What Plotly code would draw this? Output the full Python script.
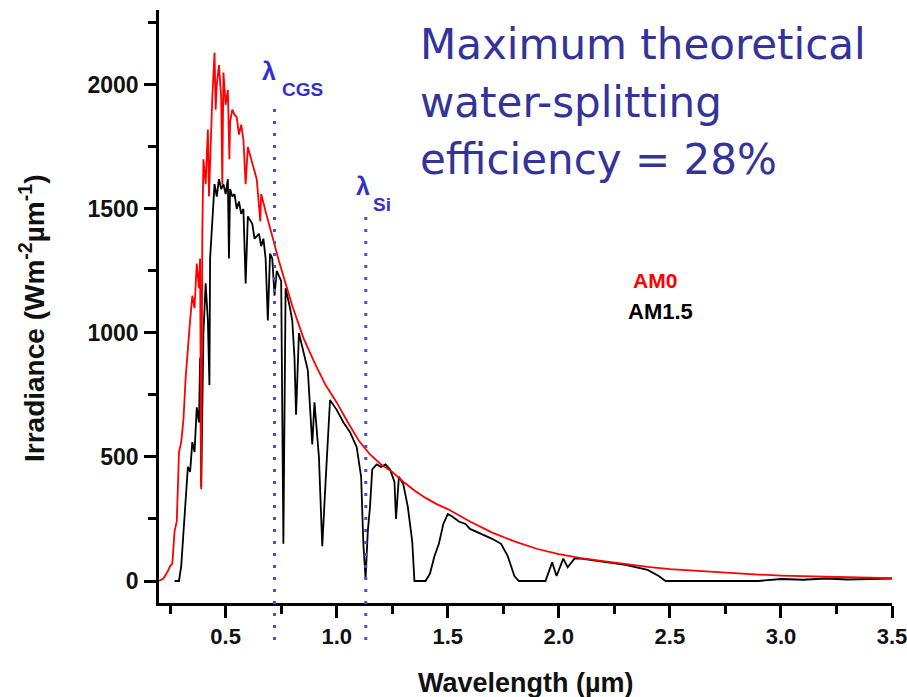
import plotly.graph_objects as go

# AM0 (extraterrestrial) spectrum
am0_wl = [0.20, 0.22, 0.24, 0.25, 0.26, 0.27, 0.28, 0.29, 0.30, 0.31, 0.32, 0.33, 0.34, 0.35,
          0.36, 0.37, 0.38, 0.385, 0.39, 0.395, 0.40, 0.41, 0.42, 0.425, 0.43, 0.44, 0.45, 0.455,
          0.46, 0.47, 0.48, 0.485, 0.49, 0.50, 0.51, 0.517, 0.52, 0.53, 0.54, 0.55, 0.56, 0.57,
          0.58, 0.59, 0.60, 0.61, 0.62, 0.63, 0.64, 0.656, 0.66, 0.68, 0.70, 0.72, 0.74, 0.76,
          0.78, 0.80, 0.85, 0.90, 0.95, 1.00, 1.05, 1.10, 1.15, 1.20, 1.25, 1.30, 1.35, 1.40,
          1.45, 1.50, 1.60, 1.70, 1.80, 1.90, 2.00, 2.10, 2.20, 2.30, 2.40, 2.50, 2.60, 2.70,
          2.80, 2.90, 3.00, 3.20, 3.40, 3.50]
am0_irr = [0, 10, 40, 60, 70, 200, 240, 520, 560, 650, 820, 950, 1050, 1150,
           1100, 1280, 1180, 1300, 370, 1400, 1700, 1600, 1820, 1550, 1700, 1950, 2130, 1900,
           2000, 2080, 1950, 1600, 2050, 1920, 1980, 1700, 1850, 1900, 1880, 1870, 1800, 1840,
           1780, 1600, 1750, 1720, 1680, 1650, 1620, 1450, 1560, 1490, 1420, 1350, 1290, 1230,
           1170, 1110, 980, 880, 790, 720, 640, 565, 510, 470, 440, 400, 365, 335,
           310, 290, 240, 195, 160, 130, 108, 92, 80, 68, 57, 48, 42, 36,
           31, 26, 22, 17, 13, 11]

# AM1.5 (terrestrial) spectrum
am15_wl = [0.27, 0.29, 0.30, 0.31, 0.32, 0.33, 0.34, 0.35, 0.36, 0.37, 0.38, 0.385, 0.39, 0.40,
           0.41, 0.42, 0.427, 0.43, 0.44, 0.45, 0.46, 0.47, 0.48, 0.49, 0.50, 0.51, 0.515, 0.52,
           0.53, 0.54, 0.55, 0.56, 0.57, 0.58, 0.59, 0.60, 0.62, 0.63, 0.65, 0.66, 0.67, 0.68,
           0.69, 0.70, 0.71, 0.72, 0.73, 0.74, 0.75, 0.76, 0.77, 0.79, 0.80, 0.81, 0.817, 0.83,
           0.85, 0.87, 0.89, 0.90, 0.92, 0.935, 0.95, 0.97, 1.00, 1.03, 1.06, 1.09, 1.11, 1.12,
           1.13, 1.14, 1.15, 1.16, 1.18, 1.20, 1.22, 1.24, 1.26, 1.267, 1.28, 1.30, 1.32, 1.34,
           1.35, 1.40, 1.42, 1.44, 1.46, 1.48, 1.50, 1.52, 1.55, 1.58, 1.60, 1.65, 1.70, 1.74,
           1.77, 1.80, 1.82, 1.94, 1.97, 1.99, 2.02, 2.04, 2.07, 2.10, 2.20, 2.30, 2.40, 2.45,
           2.48, 2.90, 3.00, 3.10, 3.20, 3.30, 3.40, 3.50]
am15_irr = [0, 0, 60, 200, 350, 460, 440, 560, 520, 700, 640, 900, 380, 1000,
            1200, 1050, 790, 1300, 1450, 1600, 1550, 1620, 1580, 1600, 1560, 1620, 1300, 1580,
            1550, 1560, 1500, 1530, 1480, 1500, 1200, 1470, 1440, 1380, 1400, 1350, 1380, 1300,
            1050, 1320, 1300, 1150, 1250, 1230, 1210, 150, 1180, 1100, 1050, 900, 670, 1000,
            920, 850, 550, 720, 500, 140, 400, 730, 690, 640, 600, 540, 420, 150,
            10, 200, 300, 450, 470, 460, 470, 450, 400, 250, 420, 390, 300, 160,
            0, 0, 30, 100, 150, 230, 270, 260, 240, 230, 210, 190, 170, 150,
            100, 20, 0, 0, 75, 20, 90, 55, 90, 90, 78, 65, 45, 20,
            0, 0, 8, 5, 10, 6, 8, 10]

x_ticks = [0.5, 1.0, 1.5, 2.0, 2.5, 3.0, 3.5]
y_ticks = [0, 500, 1000, 1500, 2000]
lambda_cgs = 0.72
lambda_si = 1.131

# plot-area geometry (pixels) used to place free text
L, R, T, B = 159, 15, 10, 94
W, H = 907 - L - R, 697 - T - B


def px(xp):
    return (xp - L) / W


def py(yp):
    return (697 - B - yp) / H


def label(x, y, text, size, color, family="Liberation Sans", angle=0, xa="center"):
    fig.add_annotation(x=px(x), y=py(y), xref="paper", yref="paper", text=text,
                       showarrow=False, xanchor=xa, yanchor="middle", textangle=angle,
                       font=dict(family=family, size=size, color=color))


fig = go.Figure()
fig.add_trace(go.Scatter(x=am15_wl, y=am15_irr, mode="lines",
                         line=dict(color="black", width=1.8), name="AM1.5"))
fig.add_trace(go.Scatter(x=am0_wl, y=am0_irr, mode="lines",
                         line=dict(color="#ff0000", width=1.8), name="AM0"))

dot_color = "#4a4ae0"
fig.add_shape(type="line", xref="x", yref="paper", x0=lambda_cgs, x1=lambda_cgs,
              y0=py(640), y1=py(105), line=dict(color=dot_color, width=3, dash="3px,9px"))
fig.add_shape(type="line", xref="x", yref="paper", x0=lambda_si, x1=lambda_si,
              y0=py(640), y1=py(215), line=dict(color=dot_color, width=3, dash="3px,9px"))

blue = "#3030cc"
label(269, 71, "<b>λ</b>", 25, blue)
label(302, 90, "<b>CGS</b>", 19, blue)
label(363, 186, "<b>λ</b>", 25, blue)
label(382, 204, "<b>Si</b>", 19, blue)

title_lines = ["Maximum theoretical", "water-splitting", "efficiency = 28%"]
title_centers = [45, 102, 159]
for t, c in zip(title_lines, title_centers):
    label(418, c, t, 42, "#333399", family="DejaVu Sans", xa="left")

label(655, 280, "<b>AM0</b>", 21, "#ff0000")
label(660, 312, "<b>AM1.5</b>", 22, "black")

# axis titles
label(526, 683, "<b>Wavelength (µm)</b>", 27, "#111111")
label(32, 318, "<b>Irradiance (Wm<sup>-2</sup>µm<sup>-1</sup>)</b>", 28, "#111111", angle=-90)

fig.update_layout(
    width=907, height=697,
    margin=dict(l=L, r=R, t=T, b=B, autoexpand=False),
    paper_bgcolor="white", plot_bgcolor="white",
    showlegend=False,
    font=dict(family="Liberation Sans", color="black"),
)
fig.update_xaxes(
    range=[0.2, 3.5], tickvals=x_ticks, ticktext=[f"{v:.1f}" for v in x_ticks],
    automargin=False, ticklabeloverflow="allow",
    showgrid=False, zeroline=False, showline=True, linecolor="black", linewidth=2.5,
    ticks="outside", ticklen=12, tickwidth=2.5, tickcolor="black",
    minor=dict(ticks="outside", ticklen=8, tickwidth=2.5, tickcolor="black", dtick=0.25,
               tick0=0.25, showgrid=False),
    tickfont=dict(family="Liberation Sans", size=22, weight="bold", color="#111111"),
)
fig.update_yaxes(
    range=[-88.7, 2302], tickvals=y_ticks, ticktext=[str(v) for v in y_ticks],
    automargin=False, ticklabeloverflow="allow",
    showgrid=False, zeroline=False, showline=True, linecolor="black", linewidth=2.5,
    ticks="outside", ticklen=12, tickwidth=2.5, tickcolor="black",
    minor=dict(ticks="outside", ticklen=8, tickwidth=2.5, tickcolor="black", dtick=250,
               tick0=250, showgrid=False),
    tickfont=dict(family="Liberation Sans", size=23, weight="bold", color="#111111"),
    ticklabelstandoff=1,
)

fig.write_html("out.html", config={"displayModeBar": False},
               post_script="document.body.style.margin='0';document.body.style.overflow='hidden';")
